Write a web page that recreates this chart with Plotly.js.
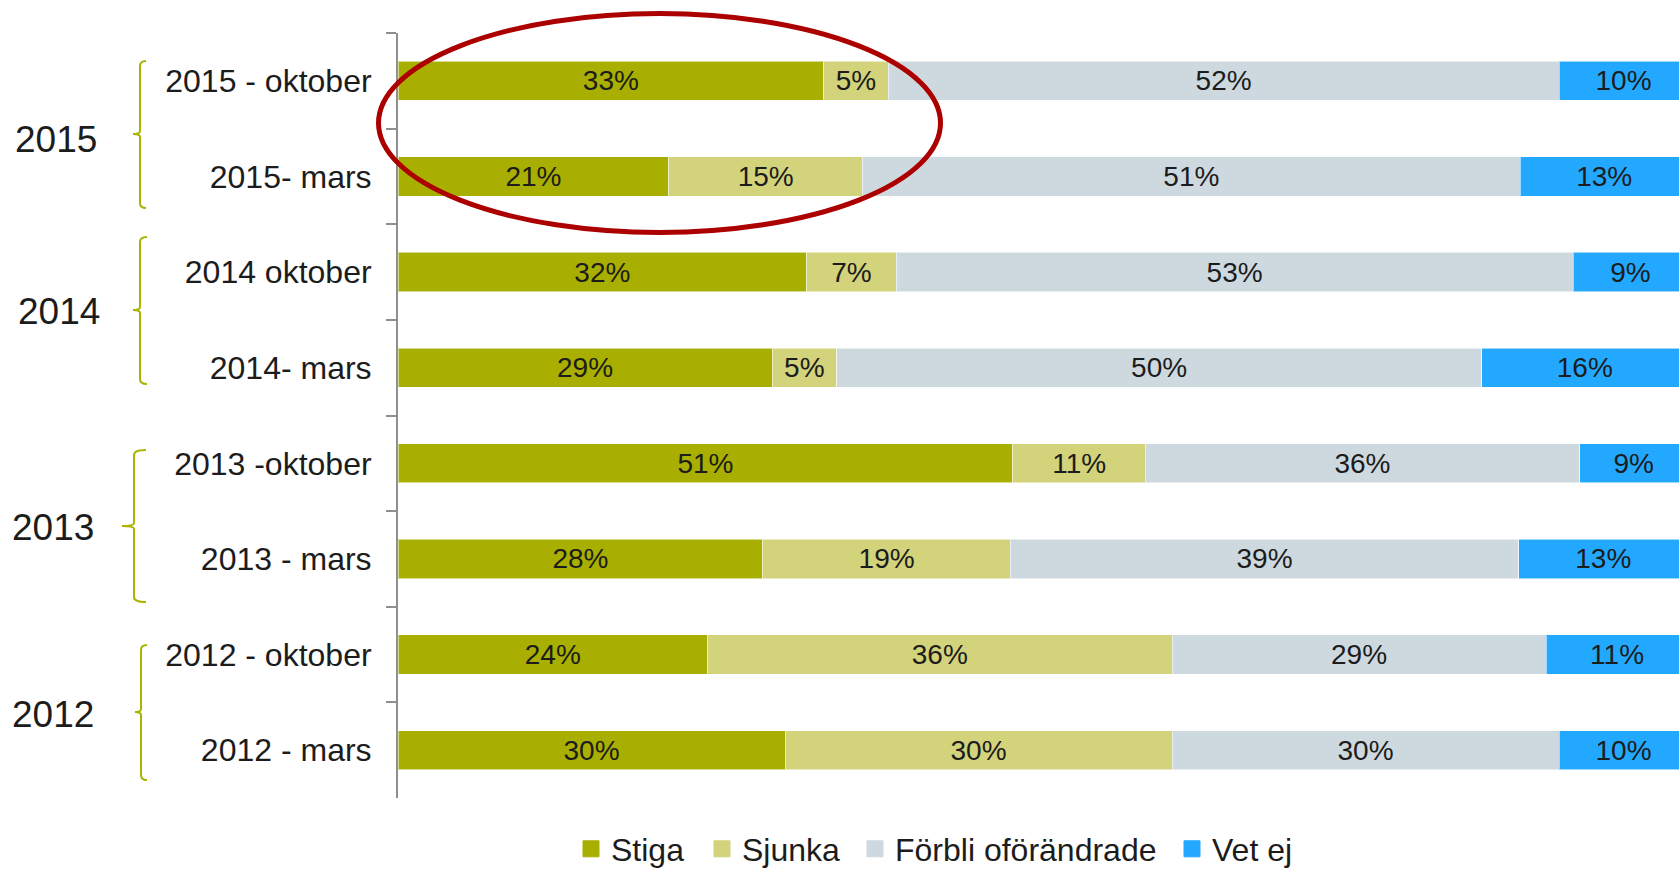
<!DOCTYPE html>
<html>
<head>
<meta charset="utf-8">
<script src="https://cdn.plot.ly/plotly-3.0.1.min.js"></script>
<style>
html, body { margin: 0; padding: 0; overflow: hidden; background: #fff; }
#chart { width: 1690px; height: 869px; }
</style>
</head>
<body>
<div id="chart"></div>
<script>
// ---- data ----
const categories = ['2015 - oktober', '2015- mars', '2014 oktober', '2014- mars',
                    '2013 -oktober', '2013 - mars', '2012 - oktober', '2012 - mars'];
const seriesNames = ['Stiga', 'Sjunka', 'Förbli oförändrade', 'Vet ej'];
const stiga  = [33, 21, 32, 29, 51, 28, 24, 30];
const sjunka = [5, 15, 7, 5, 11, 19, 36, 30];
const forbli = [52, 51, 53, 50, 36, 39, 29, 30];
const vetEj  = [10, 13, 9, 16, 9, 13, 11, 10];
const yearLabels = ['2015', '2014', '2013', '2012'];

// ---- styles / layout geometry ----
const colors = ['#A9AF00', '#D2D37B', '#CED9DF', '#22A9FF'];
const FONT = 'Liberation Sans, Arial, sans-serif';
const W = 1690, H = 869;
const M = {l: 398, r: 2, t: 33, b: 71, autoexpand: false};
const PW = W - M.l - M.r, PH = H - M.t - M.b;
const px = x => (x - M.l) / PW;          // pixel -> paper x
const py = y => (H - M.b - y) / PH;      // pixel -> paper y

const seriesValues = [stiga, sjunka, forbli, vetEj];
const traces = seriesValues.map((vals, i) => ({
  type: 'bar',
  orientation: 'h',
  name: seriesNames[i],
  y: categories,
  x: vals,
  text: vals.map(v => v + '%'),
  textposition: 'inside',
  insidetextanchor: 'middle',
  constraintext: 'none',
  textfont: {family: FONT, size: 28, color: '#1c1c1c'},
  marker: {color: colors[i], line: {color: 'rgba(255,255,255,0.55)', width: 1}},
  showlegend: false,
  hoverinfo: 'skip'
}));

// legend entries (square markers)
const legendWidths = [86, 108, 272, 100];
seriesNames.forEach((n, i) => {
  traces.push({
    type: 'scatter', mode: 'markers', name: n,
    x: [null], y: [null],
    marker: {symbol: 'square', size: 16, color: colors[i], line: {color: colors[i], width: 1}},
    legendwidth: legendWidths[i],
    showlegend: true, hoverinfo: 'skip'
  });
});

// year group brackets (pixel geometry)
const brackets = [
  {top: 61,  bot: 208, x: 140, r: 146, mid: 134, nub: 133},
  {top: 237, bot: 384, x: 140, r: 147, mid: 310, nub: 133},
  {top: 450, bot: 602, x: 134, r: 146, mid: 526, nub: 122},
  {top: 645, bot: 780, x: 141, r: 147, mid: 712, nub: 135}
];
const yearPos = [[56, 140], [59, 311], [53, 527], [53, 714]];

const P = (x, y) => px(x) + ',' + py(y);
const shapes = brackets.map(b => ({
  type: 'path', xref: 'paper', yref: 'paper',
  path: 'M' + P(b.r, b.top) + ' Q' + P(b.x, b.top) + ' ' + P(b.x, b.top + 5) +
        ' L' + P(b.x, b.mid - 3) + ' Q' + P(b.x, b.mid) + ' ' + P(b.nub, b.mid) +
        ' Q' + P(b.x, b.mid) + ' ' + P(b.x, b.mid + 3) +
        ' L' + P(b.x, b.bot - 5) + ' Q' + P(b.x, b.bot) + ' ' + P(b.r, b.bot),
  line: {color: '#A9B300', width: 2}
}));
// red highlight ellipse
shapes.push({
  type: 'circle', xref: 'paper', yref: 'paper',
  x0: px(378.5), x1: px(940.5), y0: py(232.5), y1: py(13.5),
  line: {color: '#AC0000', width: 5}
});

const annotations = yearLabels.map((t, i) => ({
  text: t, xref: 'paper', yref: 'paper',
  x: px(yearPos[i][0]), y: py(yearPos[i][1]),
  xanchor: 'center', yanchor: 'middle', showarrow: false,
  font: {family: FONT, size: 37, color: '#1c1c1c'}
}));

const layout = {
  width: W, height: H,
  margin: M,
  barmode: 'stack',
  barnorm: 'percent',
  bargap: 0.59,
  paper_bgcolor: '#fff', plot_bgcolor: '#fff',
  font: {family: FONT, color: '#1c1c1c'},
  xaxis: {range: [0, 100], visible: false, fixedrange: true},
  yaxis: {
    type: 'category',
    categoryorder: 'array', categoryarray: categories,
    autorange: 'reversed',
    showline: true, linecolor: '#8f8f8f', linewidth: 2,
    ticks: 'outside', ticklen: 10, tickwidth: 2, tickcolor: '#8f8f8f',
    tickson: 'boundaries',
    ticklabelstandoff: 18,
    showgrid: false, zeroline: false,
    tickfont: {family: FONT, size: 32, color: '#1c1c1c'},
    automargin: false, fixedrange: true
  },
  showlegend: true,
  legend: {
    orientation: 'h',
    traceorder: 'normal',
    x: px(571), xanchor: 'left',
    y: py(849), yanchor: 'middle',
    font: {family: FONT, size: 32, color: '#1c1c1c'},
    bgcolor: 'rgba(0,0,0,0)'
  },
  shapes: shapes,
  annotations: annotations
};

Plotly.newPlot('chart', traces, layout, {displayModeBar: false, staticPlot: true});
</script>
</body>
</html>
